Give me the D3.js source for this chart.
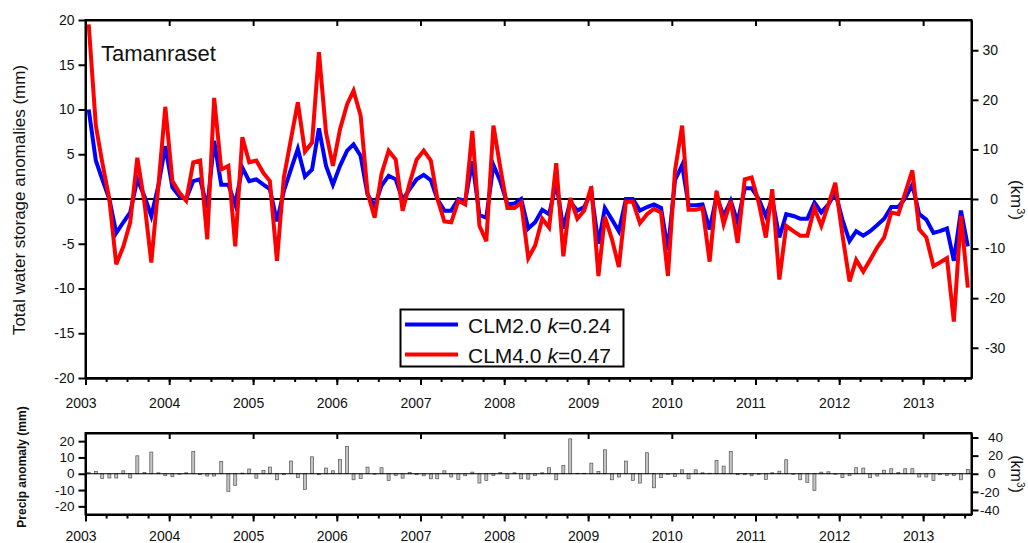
<!DOCTYPE html>
<html>
<head>
<meta charset="utf-8">
<script src="https://cdn.jsdelivr.net/npm/d3@7"></script>
<style>
  body { margin: 0; background: #fff; }
  text { font-family: "Liberation Sans", Arial, sans-serif; fill: #111; }
</style>
</head>
<body>
<svg id="chart" width="1028" height="543"></svg>
<script>
// monthly values, Jan 2003 .. Jul 2013
const clm20 = [
  10.0, 4.3, 2.2, 0.0, -3.8, -2.6, -1.5, 2.2, 0.3, -1.9, 1.5, 5.9,
  1.3, 0.3, 0.0, 2.0, 2.2, -1.0, 6.5, 1.6, 1.6, -0.6, 3.5, 2.0,
  2.2, 1.6, 1.1, -2.5, 0.9, 3.3, 5.6, 2.5, 3.3, 7.9, 3.7, 1.6,
  3.7, 5.4, 6.1, 4.8, 0.5, -0.8, 1.5, 2.6, 2.2, -0.1, 1.1, 2.2,
  2.7, 2.1, 0.0, -1.3, -1.3, 0.0, -0.2, 4.2, -1.8, -2.1, 3.8, 2.0,
  -0.6, -0.5, 0.0, -3.3, -2.6, -1.2, -1.7, 1.8, -3.3, -0.3, -1.3, -0.9,
  0.8, -5.0, -1.0, -2.3, -3.6, 0.0, 0.0, -1.3, -0.9, -0.6, -1.0, -5.7,
  2.1, 3.8, -0.7, -0.7, -0.6, -3.4, 0.3, -1.9, -0.2, -2.6, 1.2, 1.2,
  0.0, -1.9, 0.0, -4.3, -1.7, -1.9, -2.2, -2.2, -0.4, -1.5, -0.6, 0.7,
  -2.3, -4.7, -3.6, -4.1, -3.6, -2.9, -2.2, -0.9, -0.9, 0.1, 1.6, -1.7,
  -2.3, -3.8, -3.6, -3.3, -6.9, -1.3, -5.3
];
const clm40 = [
  19.5, 8.2, 4.1, 0.0, -7.3, -5.3, -2.6, 4.6, -0.4, -7.1, 1.5, 10.3,
  2.0, 0.7, -0.2, 4.1, 4.3, -4.5, 11.3, 3.3, 3.7, -5.3, 6.9, 4.1,
  4.3, 2.9, 2.0, -6.9, 2.4, 6.7, 10.8, 5.3, 6.3, 16.4, 7.4, 3.7,
  7.8, 10.6, 12.1, 9.3, 0.7, -2.1, 2.8, 5.4, 4.4, -1.3, 1.8, 4.4,
  5.4, 4.3, 0.1, -2.5, -2.6, -0.2, -0.6, 7.6, -3.0, -4.7, 8.2, 3.5,
  -1.0, -1.0, -0.4, -6.6, -5.2, -2.2, -3.2, 4.0, -6.4, 0.1, -2.2, -1.3,
  1.4, -8.6, -2.0, -4.5, -7.6, -0.3, -0.3, -2.7, -1.7, -1.1, -1.5, -8.6,
  3.2, 8.2, -1.2, -1.2, -1.0, -7.0, 0.9, -2.8, -0.2, -4.9, 2.2, 2.4,
  -0.4, -4.3, 1.1, -9.0, -3.0, -3.6, -4.1, -4.1, -1.0, -3.0, -0.6, 1.8,
  -4.0, -9.2, -6.8, -8.1, -6.8, -5.4, -4.3, -1.5, -1.7, 0.7, 3.2, -3.4,
  -4.3, -7.5, -7.1, -6.6, -13.7, -1.9, -9.9
];
const precip = [
  0.8, 1.4, -2.9, -2.6, -2.6, 1.8, -2.6, 11.0, 0.8, 13.3, 0.6, -1.2,
  -1.8, -0.3, 0.6, 13.6, -0.6, -1.4, -1.4, 7.6, -10.8, -7.1, 0.4, 2.9,
  -2.7, 2.0, 4.1, -3.7, -0.6, 7.8, -2.4, -9.6, 10.4, -0.6, 3.5, 1.8,
  8.8, 16.7, -3.7, -2.9, 4.1, -0.3, 3.7, -4.1, -1.0, -2.7, 0.8, -0.6,
  -1.2, -3.1, -3.1, 1.8, -2.0, -3.5, -1.2, 1.0, -5.7, -4.1, -1.0, 0.8,
  -2.9, 0.6, -3.1, -3.3, -1.2, 0.6, 3.7, -3.7, 5.1, 21.4, 0.3, 0.3,
  6.5, 1.4, 14.7, -3.7, -2.0, 7.8, -4.1, -5.7, 12.9, -8.6, -2.4, -0.3,
  -1.6, 2.4, -3.1, 2.4, 0.6, 0.3, 8.2, 4.7, 13.7, -0.6, -0.6, -1.2,
  -0.3, -3.5, 0.6, 1.6, 8.6, -0.3, -3.7, -5.3, -10.2, 1.0, 1.2, -0.3,
  -2.4, -1.2, 3.7, 3.5, -2.4, -1.4, 2.2, 3.1, 0.8, 3.1, 3.1, -2.0,
  -2.0, -4.1, -0.6, -1.0, -1.0, -3.7, 2.7
];

const months = d3.timeMonth.range(new Date(2003, 0, 1), new Date(2013, 7, 1));
const yearTicks = [2003, 2004, 2005, 2006, 2007, 2008, 2009, 2010, 2011, 2012, 2013];
const tswsTicks = [20, 15, 10, 5, 0, -5, -10, -15, -20];
const tswsKmTicks = [30, 20, 10, 0, -10, -20, -30];
const precipTicks = [20, 10, 0, -10, -20];
const precipKmTicks = [40, 20, 0, -20, -40];
const models = ["CLM2.0", "CLM4.0"];
const kValues = ["0.24", "0.47"];
const modelColors = ["#0000ff", "#ff0000"];
const siteName = "Tamanraset";

const left = 85.5, right = 971.5;
const top1 = { top: 20, bottom: 378 };
const top2 = { top: 433, bottom: 514.5 };

const svg = d3.select("#chart");

const x = d3.scaleTime()
  .domain([new Date(2003, 0, 1), new Date(2013, 6, 31)])
  .range([left, right]);
const mid = m => d3.timeDay.offset(m, 14);
const years = yearTicks.map(y => new Date(y, 0, 1));
const quarters = d3.timeMonth.every(3).range(new Date(2003, 0, 1), new Date(2013, 6, 31));

const y1 = d3.scaleLinear().domain([-20, 20]).range([top1.bottom, top1.top]);
const y1km = d3.scaleLinear().domain([-36.1, 36.1]).range([top1.bottom, top1.top]);
const y2 = d3.scaleLinear().domain([-25, 25]).range([top2.bottom, top2.top]);
const y2km = d3.scaleLinear().domain([-45, 45]).range([top2.bottom, top2.top]);

function styleAxis(g) {
  g.selectAll("path, line").attr("stroke", "#000").attr("stroke-width", 2);
  g.selectAll("text").remove();
}

function xAxes(panel) {
  // bottom, major years + quarterly minor, outward
  svg.append("g").attr("transform", `translate(0,${panel.bottom})`)
    .call(d3.axisBottom(x).tickValues(quarters).tickSize(4).tickSizeOuter(0))
    .call(styleAxis);
  svg.append("g").attr("transform", `translate(0,${panel.bottom})`)
    .call(d3.axisBottom(x).tickValues(years).tickSize(7).tickSizeOuter(0))
    .call(styleAxis);
  // top, years inward
  svg.append("g").attr("transform", `translate(0,${panel.top})`)
    .call(d3.axisTop(x).tickValues(years).tickSize(-6).tickSizeOuter(0))
    .call(styleAxis);
}

function yAxes(panel, yl, yr, lTicks, rTicks, fontSize, rightMode) {
  svg.append("g").attr("transform", `translate(${left},0)`)
    .call(d3.axisLeft(yl).tickValues(lTicks).tickSize(7).tickSizeOuter(0))
    .call(styleAxis);
  svg.append("g").attr("transform", `translate(${right},0)`)
    .call(d3.axisRight(yr).tickValues(rTicks).tickSize(7).tickSizeOuter(0))
    .call(styleAxis);

  svg.append("g").selectAll("text").data(lTicks).join("text")
    .attr("x", left - 11)
    .attr("y", d => yl(d))
    .attr("dy", "0.35em")
    .attr("text-anchor", "end")
    .style("font-size", fontSize + "px")
    .text(d => String(d));

  svg.append("g").selectAll("text").data(rTicks).join("text")
    .attr("x", d => rightMode === "top" ? (d < 0 ? 985 : 998) : (d < 0 ? 980 : 988))
    .attr("y", d => yr(d))
    .attr("dy", "0.35em")
    .attr("text-anchor", d => rightMode === "top" && d >= 0 ? "end" : "start")
    .style("font-size", fontSize + "px")
    .text(d => String(d));
}

function yearLabels(baseline) {
  svg.append("g").selectAll("text").data(years).join("text")
    .attr("x", d => x(d) - 4.5)
    .attr("y", baseline)
    .attr("text-anchor", "middle")
    .style("font-size", "14px")
    .text(d => d.getFullYear());
}

// ---------- top panel ----------
svg.append("line")
  .attr("x1", left).attr("x2", right)
  .attr("y1", y1(0)).attr("y2", y1(0))
  .attr("stroke", "#000").attr("stroke-width", 1.8);

[clm20, clm40].forEach((series, k) => {
  const line = d3.line()
    .x((d, i) => x(mid(months[i])))
    .y(d => y1(d));
  svg.append("path")
    .datum(series)
    .attr("fill", "none")
    .attr("stroke", modelColors[k])
    .attr("stroke-width", 4)
    .attr("d", line);
});

svg.append("rect")
  .attr("x", left).attr("y", top1.top)
  .attr("width", right - left).attr("height", top1.bottom - top1.top)
  .attr("fill", "none").attr("stroke", "#000").attr("stroke-width", 2);

xAxes(top1);
yAxes(top1, y1, y1km, tswsTicks, tswsKmTicks, 14, "top");
yearLabels(407.5);

svg.append("text")
  .attr("x", 101).attr("y", 60.5)
  .style("font-size", "22px")
  .text(siteName);

svg.append("text")
  .attr("transform", "translate(25,200) rotate(-90)")
  .attr("text-anchor", "middle")
  .style("font-size", "17px")
  .text("Total water storage anomalies (mm)");

const km1 = svg.append("text")
  .attr("transform", "translate(1011,200) rotate(90)")
  .attr("text-anchor", "middle")
  .style("font-size", "17px");
km1.append("tspan").text("(km");
km1.append("tspan").attr("dy", -6).style("font-size", "11px").text("3");
km1.append("tspan").attr("dy", 6).text(")");

// legend
const legend = svg.append("g");
legend.append("rect")
  .attr("x", 400.5).attr("y", 309.5)
  .attr("width", 223).attr("height", 57)
  .attr("fill", "#fff").attr("stroke", "#000").attr("stroke-width", 2);
models.forEach((m, k) => {
  const ly = 324.5 + k * 30;
  legend.append("line")
    .attr("x1", 405).attr("x2", 458)
    .attr("y1", ly).attr("y2", ly)
    .attr("stroke", modelColors[k]).attr("stroke-width", 4);
  const t = legend.append("text")
    .attr("x", 468).attr("y", ly + 8)
    .style("font-size", "21px");
  t.append("tspan").text(m + " ");
  t.append("tspan").style("font-style", "italic").text("k");
  t.append("tspan").text("=" + kValues[k]);
});

// ---------- bottom panel ----------
svg.append("g").selectAll("rect").data(precip).join("rect")
  .attr("x", (d, i) => x(mid(months[i])) - 1.5)
  .attr("y", d => Math.min(y2(d), y2(0)))
  .attr("width", 3)
  .attr("height", d => Math.abs(y2(d) - y2(0)))
  .attr("fill", "#c4c4c4")
  .attr("stroke", "#555")
  .attr("stroke-width", 0.7);

svg.append("line")
  .attr("x1", left).attr("x2", right)
  .attr("y1", y2(0)).attr("y2", y2(0))
  .attr("stroke", "#000").attr("stroke-width", 1.2);

svg.append("rect")
  .attr("x", left).attr("y", top2.top)
  .attr("width", right - left).attr("height", top2.bottom - top2.top)
  .attr("fill", "none").attr("stroke", "#000").attr("stroke-width", 2);

xAxes(top2);
yAxes(top2, y2, y2km, precipTicks, precipKmTicks, 13.5, "bottom");
yearLabels(541);

svg.append("text")
  .attr("transform", "translate(26,467) rotate(-90)")
  .attr("text-anchor", "middle")
  .style("font-size", "12px")
  .style("font-weight", "bold")
  .text("Precip anomaly (mm)");

const km2 = svg.append("text")
  .attr("transform", "translate(1011,474) rotate(90)")
  .attr("text-anchor", "middle")
  .style("font-size", "16px");
km2.append("tspan").text("(km");
km2.append("tspan").attr("dy", -6).style("font-size", "10px").text("3");
km2.append("tspan").attr("dy", 6).text(")");
</script>
</body>
</html>
